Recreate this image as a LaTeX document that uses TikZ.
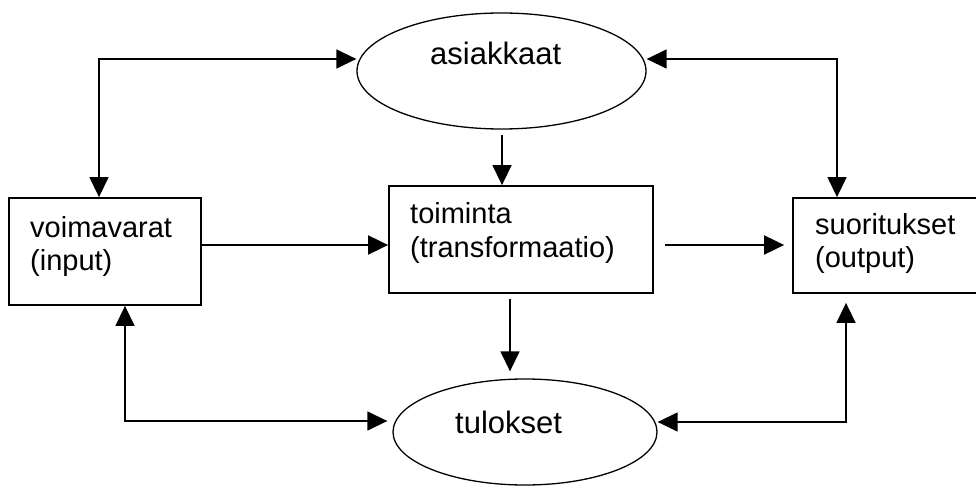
\documentclass[tikz,border=0pt]{standalone}
\usepackage{fontspec}
\setmainfont{Liberation Sans}
\usetikzlibrary{arrows.meta,shapes.geometric}
\begin{document}
\begin{tikzpicture}[x=1pt,y=-1pt,
  box/.style={draw,line width=1.8pt,rectangle,inner sep=0pt},
  oval/.style={draw,line width=1.3pt,ellipse,inner sep=0pt},
  lbl/.style={anchor=base west,inner sep=0pt,font=\fontsize{29}{33}\selectfont},
  olbl/.style={anchor=base west,inner sep=0pt,font=\fontsize{31}{36}\selectfont},
  tip/.style={-{Triangle[length=20pt,width=19pt]}},
  both/.style={{Triangle[length=20pt,width=19pt]}-{Triangle[length=20pt,width=19pt]}},
  link/.style={line width=1.4pt},
  flow/.style={line width=1.9pt},
]
\fill[white] (0,0) rectangle (976,486);
\clip (0,0) rectangle (976,486);

% shapes
\node[oval,minimum width=289pt,minimum height=116pt] (asi) at (501.5,71) {};
\node[oval,minimum width=264pt,minimum height=106pt] (tul) at (525,432) {};
\node[box,minimum width=192pt,minimum height=107pt] (voim) at (105,251.5) {};
\node[box,minimum width=264pt,minimum height=107pt] (toim) at (521,239.5) {};
\node[box,minimum width=197pt,minimum height=95pt] (suor) at (891.5,245.5) {};

% labels
\node[olbl] (asitxt) at (430,65) {asiakkaat};
\node[olbl] (tultxt) at (455,433) {tulokset};
\node[lbl] (voimtxt) at (30,237) {voimavarat};
\node[lbl] (voimsub) at (30,270) {(input)};
\node[lbl] (toimtxt) at (410,224) {toiminta};
\node[lbl] (toimsub) at (410,257) {(transformaatio)};
\node[lbl] (suortxt) at (815,235) {suoritukset};
\node[lbl] (suorsub) at (815,267) {(output)};

% bend points and free ends of the connectors
\coordinate (tl) at (99,59);
\coordinate (tr) at (837,59);
\coordinate (bl) at (125,421);
\coordinate (br) at (846,422);
\coordinate (cu) at (502,135);
\coordinate (cd) at (510,299);
\coordinate (ml) at (665,245);

% connectors
\draw[link,both] (voim.north -| tl) -- (tl) -- (asi.west |- tl);
\draw[link,both] (asi.east |- tr) -- (tr) -- (suor.north -| tr);
\draw[link,tip] (cu) -- (toim.north -| cu);
\draw[flow,tip] (voim.east |- ml) -- (toim.west |- ml);
\draw[flow,tip,shorten >=8pt] (ml) -- (suor.west |- ml);
\draw[link,tip,shorten >=7pt] (cd) -- (tul.north -| cd);
\draw[link,both,shorten >=5pt] (voim.south -| bl) -- (bl) -- (tul.west |- bl);
\draw[link,both,shorten <=9pt] (suor.south -| br) -- (br) -- (tul.east |- br);
\end{tikzpicture}
\end{document}
